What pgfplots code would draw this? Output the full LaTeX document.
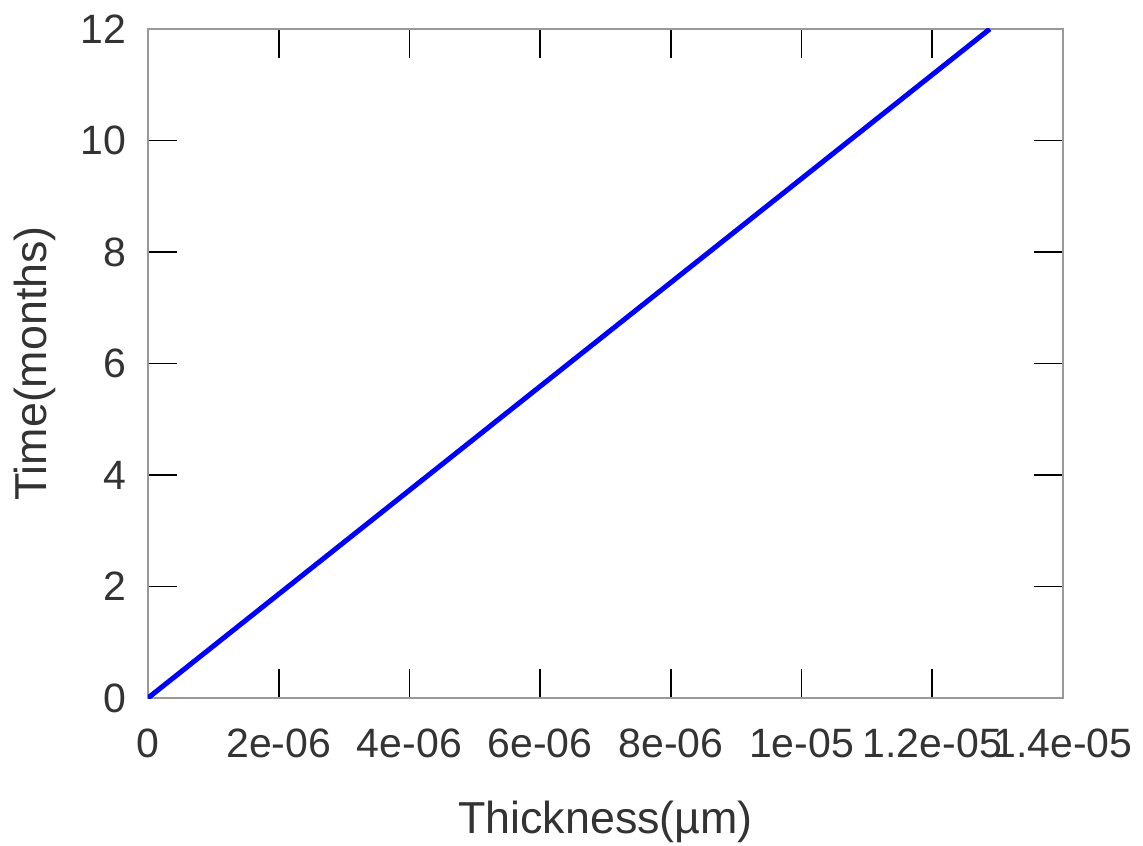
\documentclass[border=0pt]{standalone}
\usepackage{pgfplots}
\pgfplotsset{compat=1.18}
\usepackage{fontspec}
\setmainfont{Liberation Sans}
\begin{document}
\begin{tikzpicture}
\useasboundingbox (-74pt,-73.5pt) rectangle (497.5pt,349pt);
\begin{axis}[
  at={(0,0)}, anchor=south west,
  scale only axis, width=457.5pt, height=334.5pt,
  xmin=0, xmax=1.4e-5, ymin=0, ymax=12,
  xtick={0,2e-6,4e-6,6e-6,8e-6,1e-5,1.2e-5,1.4e-5},
  xticklabels={0,2e-06,4e-06,6e-06,8e-06,1e-05,1.2e-05,1.4e-05},
  scaled x ticks=false,
  ytick={0,2,4,6,8,10,12},
  tick align=inside, major tick length=14.5pt,
  axis line style={gray!80, line width=0.6pt},
  tick style={black, line width=0.9pt},
  ticklabel style={font=\fontsize{20.5}{23}\selectfont, text=black!80},
  /pgf/number format/assume math mode=true,
  xticklabel style={yshift=-12pt},
  yticklabel style={xshift=-7.5pt},
  xlabel={Thickness(µm)}, ylabel={Time(months)},
  label style={font=\fontsize{22.4}{25}\selectfont, text=black!80},
  xlabel style={at={(axis description cs:0.5,0)}, anchor=center, yshift=-62pt},
  ylabel style={at={(axis description cs:0,0.5)}, anchor=center, yshift=56.5pt},
]
\addplot[blue, line width=2.5pt] coordinates {(0,0) (1.288e-5,12)};
\end{axis}
\end{tikzpicture}
\end{document}
